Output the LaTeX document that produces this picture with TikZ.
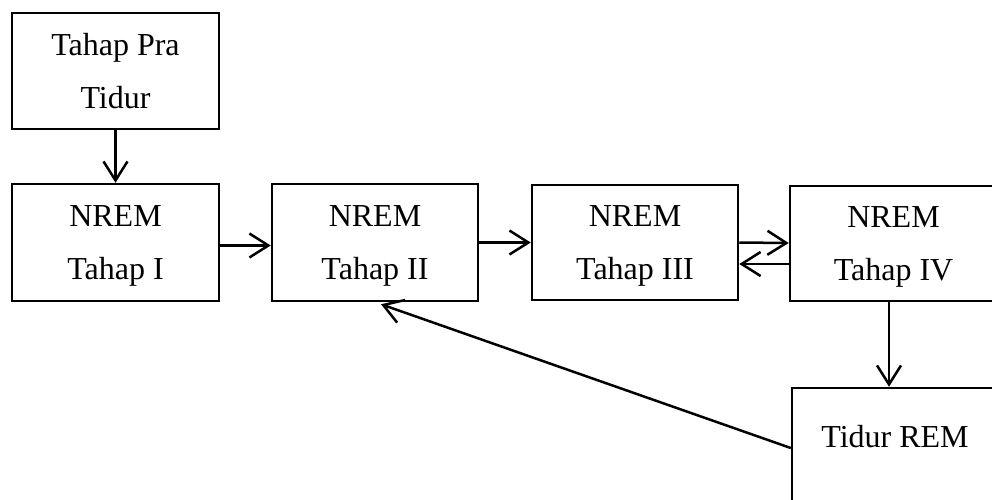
\documentclass[tikz,border=0pt]{standalone}
\usepackage{fontspec}
\setmainfont{Liberation Serif}
\usetikzlibrary{arrows.meta,calc}
\begin{document}
\begin{tikzpicture}[x=1pt,y=-1pt,
  box/.style={draw,line width=2.5pt,minimum width=207pt,minimum height=117pt,inner sep=0pt,align=center,text depth=0pt,font=\fontsize{32}{53}\selectfont},
  arr/.style={line width=2.5pt,-{Straight Barb[length=19pt,width=24pt,line width=2.5pt]}}]
\useasboundingbox (0,0) rectangle (992,499);
\clip (0,0) rectangle (992,499);
\node[box,minimum height=116pt] (pra) at (115.5,71) {Tahap Pra\\Tidur};
\node[box] (n1) at (115.5,242.5) {NREM\\Tahap I};
\node[box,minimum width=206pt] (n2) at (375,242.5) {NREM\\Tahap II};
\node[box,minimum width=206pt,minimum height=115pt] (n3) at (635,242.5) {NREM\\Tahap III};
\node[box,minimum height=115pt] (n4) at (893.5,243.5) {NREM\\Tahap IV};
\node[box,minimum width=206pt,text depth=21pt] (rem) at (895,446.5) {Tidur REM};
\draw[arr] (pra.south) -- (n1.north);
\draw[arr] ([yshift=-3pt]n1.east) -- ([yshift=-3pt]n2.west);
\draw[arr] (n2.east) -- (n3.west);
\draw[arr] (n3.east) -- ([yshift=0.5pt]n4.west);
\draw[arr] ([yshift=-20.5pt]n4.west) -- ([yshift=-21.5pt]n3.east);
\draw[arr] ([xshift=-4.5pt]n4.south) -- ([xshift=-6pt]rem.north);
\draw[arr] ([yshift=-1.5pt]rem.west) -- ([xshift=6pt,yshift=-2pt]n2.south);
\end{tikzpicture}
\end{document}
